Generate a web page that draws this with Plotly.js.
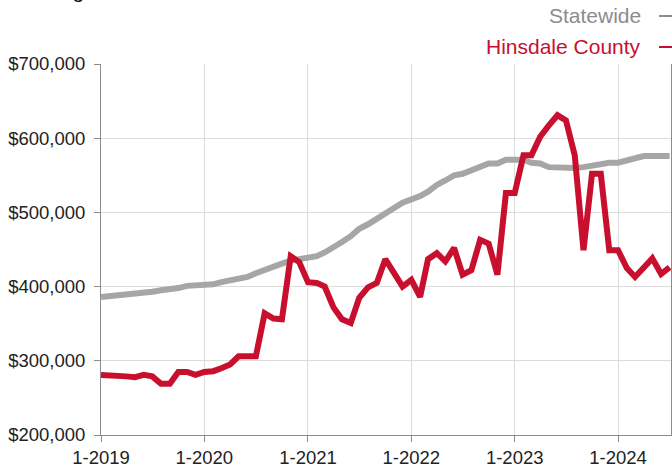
<!DOCTYPE html>
<html>
<head>
<meta charset="utf-8">
<script src="https://cdn.plot.ly/plotly-3.0.1.min.js"></script>
<style>html,body{margin:0;padding:0;background:#fff;}#chart{width:672px;height:466px;}</style>
</head>
<body>
<div id="chart"></div>
<script>
var months = [
"2019-01-01","2019-02-01","2019-03-01","2019-04-01","2019-05-01","2019-06-01","2019-07-01","2019-08-01","2019-09-01","2019-10-01","2019-11-01","2019-12-01",
"2020-01-01","2020-02-01","2020-03-01","2020-04-01","2020-05-01","2020-06-01","2020-07-01","2020-08-01","2020-09-01","2020-10-01","2020-11-01","2020-12-01",
"2021-01-01","2021-02-01","2021-03-01","2021-04-01","2021-05-01","2021-06-01","2021-07-01","2021-08-01","2021-09-01","2021-10-01","2021-11-01","2021-12-01",
"2022-01-01","2022-02-01","2022-03-01","2022-04-01","2022-05-01","2022-06-01","2022-07-01","2022-08-01","2022-09-01","2022-10-01","2022-11-01","2022-12-01",
"2023-01-01","2023-02-01","2023-03-01","2023-04-01","2023-05-01","2023-06-01","2023-07-01","2023-08-01","2023-09-01","2023-10-01","2023-11-01","2023-12-01",
"2024-01-01","2024-02-01","2024-03-01","2024-04-01","2024-05-01","2024-06-01","2024-07-01"
];
var statewide = [
386000,387000,388000,389000,390000,391000,393000,395000,396000,398000,401000,401000,
401000,403000,406000,408000,409000,413000,418000,423000,427000,431000,435000,437000,
440000,441000,446000,452000,460000,468000,478000,484000,492000,500000,506000,513000,
517000,522000,528000,537000,543000,550000,552000,556000,561000,566000,566000,571000,
571000,571000,567000,566000,561000,560000,560000,560000,561000,563000,566000,567000,
567000,570000,572000,576000,576000,576000,576000
];
var hinsdale = [
281000,281000,281000,279000,278000,281000,279000,269000,269000,285000,285000,281000,
285000,286000,290000,295000,306000,306000,306000,364000,357000,356000,441000,433000,
406000,405000,400000,372000,356000,351000,385000,399000,405000,437000,418000,400000,
409000,386000,437000,445000,434000,452000,416000,422000,463000,458000,416000,526000,
526000,577000,577000,602000,617000,631000,624000,577000,449000,552000,552000,449000,
449000,425000,413000,425000,438000,417000,426000
];
var tickVals = ["2019-01-01","2020-01-01","2021-01-01","2022-01-01","2023-01-01","2024-01-01"];
var tickText = ["1-2019","1-2020","1-2021","1-2022","1-2023","1-2024"];
var yTicks = [200000,300000,400000,500000,600000,700000];

var grayC = "#a6a6a6", redC = "#c8102e";
var traces = [
  {x: months, y: statewide, name: "Statewide", mode: "lines", line: {color: grayC, width: 6}},
  {x: months, y: hinsdale, name: "Hinsdale County", mode: "lines", line: {color: redC, width: 6}}
];
function px(x){ return (x-101)/570; }
function py(y){ return (435-y)/371; }
var layout = {
  width: 672, height: 466,
  margin: {l: 101, r: 1, t: 64, b: 31},
  paper_bgcolor: "#fff", plot_bgcolor: "#fff",
  showlegend: false,
  font: {family: "Liberation Sans, Arial, sans-serif", size: 18.5, color: "#222"},
  xaxis: {
    type: "date", range: ["2019-01-01", "2024-07-06"],
    tickvals: tickVals, ticktext: tickText,
    showgrid: true, gridcolor: "#dcdcdc", gridwidth: 1,
    showline: true, linecolor: "#8c8c8c", linewidth: 1,
    ticks: "outside", ticklen: 6, tickcolor: "#8c8c8c",
    zeroline: false, fixedrange: true
  },
  yaxis: {
    range: [200000, 700000], tickvals: yTicks, tickformat: "$,.0f",
    showgrid: true, gridcolor: "#dcdcdc", gridwidth: 1,
    showline: true, linecolor: "#8c8c8c", linewidth: 1, mirror: true,
    ticks: "outside", ticklen: 6, tickcolor: "#8c8c8c", ticklabelstandoff: 5,
    zeroline: false, fixedrange: true
  },
  annotations: [
    {xref: "paper", yref: "paper", x: px(643), y: py(16), xanchor: "right", yanchor: "middle",
     text: "Statewide", showarrow: false, font: {size: 21, color: "#8c8c8c"}},
    {xref: "paper", yref: "paper", x: px(643), y: py(47), xanchor: "right", yanchor: "middle",
     text: "Hinsdale County", showarrow: false, font: {size: 21, color: redC}},
    {xref: "paper", yref: "paper", x: px(18), y: py(4), xanchor: "left", yanchor: "bottom",
     text: "Rolling 12-Month Calculation", showarrow: false, font: {size: 21, color: "#111"}}
  ],
  shapes: [
    {type: "line", xref: "paper", yref: "paper", x0: px(659), x1: px(690), y0: py(16), y1: py(16), line: {color: "#8c8c8c", width: 2}},
    {type: "line", xref: "paper", yref: "paper", x0: px(659), x1: px(690), y0: py(47), y1: py(47), line: {color: redC, width: 2}}
  ]
};
Plotly.newPlot("chart", traces, layout, {displayModeBar: false, staticPlot: true});
</script>
</body>
</html>
